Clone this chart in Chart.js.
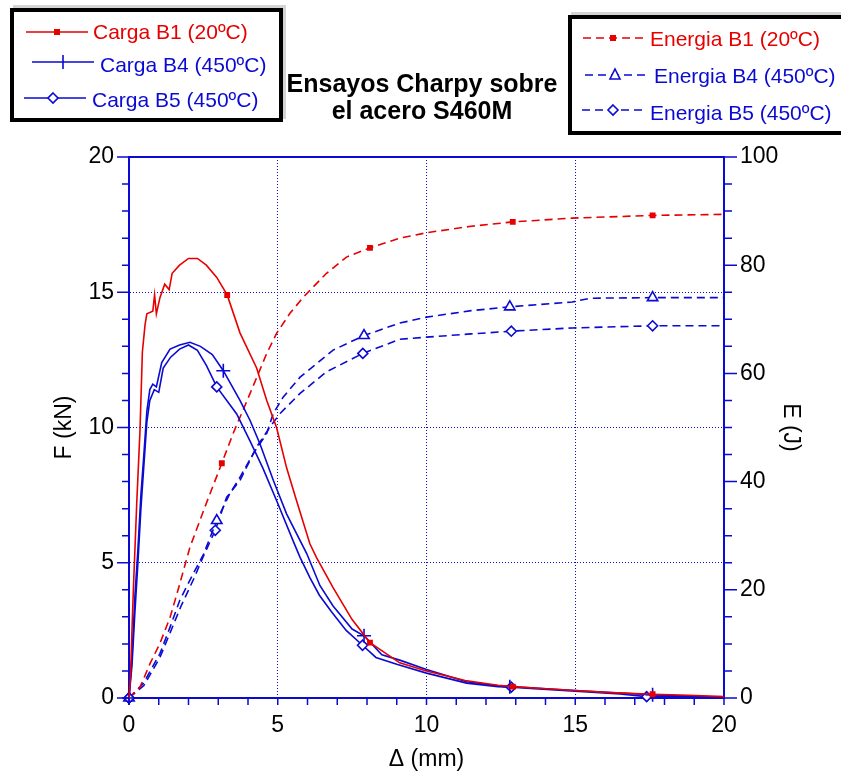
<!DOCTYPE html>
<html>
<head>
<meta charset="utf-8">
<script src="https://cdn.jsdelivr.net/npm/chart.js@4.4.1/dist/chart.umd.min.js"></script>
<style>
body { margin: 0; background: #fff; overflow: hidden; }
#wrap { position: relative; width: 841px; height: 774px; overflow: hidden; font-family: "Liberation Sans", Arial, sans-serif; }
#c { position: absolute; left: 0; top: 0; }
.box { position: absolute; border: 4px solid #000; box-sizing: border-box; background: #fff; box-shadow: 3px -3px 0 #d4d4d4; }
.lg { position: absolute; font-size: 21px; line-height: 24px; white-space: nowrap; }
.sw { position: absolute; overflow: visible; }
#title { position: absolute; left: 272px; top: 70px; width: 300px; text-align: center; font-weight: bold; font-size: 25px; line-height: 27px; color: #000; }
</style>
</head>
<body>
<div id="wrap">
  <canvas id="c" width="841" height="774"></canvas>

  <div class="box" style="left:10px;top:8px;width:273px;height:114px;"></div>
  <svg class="sw" style="left:26px;top:24px" width="64" height="16">
    <line x1="0" y1="8" x2="62" y2="8" stroke="#e60000" stroke-width="1.6"/>
    <rect x="28" y="5" width="6" height="6" fill="#e60000"/>
  </svg>
  <div class="lg" style="left:93px;top:20px;color:#e60000">Carga B1 (20ºC)</div>
  <svg class="sw" style="left:32px;top:54px" width="64" height="16">
    <line x1="0" y1="8" x2="62" y2="8" stroke="#0a0ad2" stroke-width="1.6"/>
    <line x1="31" y1="1" x2="31" y2="15" stroke="#0a0ad2" stroke-width="1.6"/>
  </svg>
  <div class="lg" style="left:100px;top:53px;color:#0a0ad2">Carga B4 (450ºC)</div>
  <svg class="sw" style="left:24px;top:90px" width="64" height="16">
    <line x1="0" y1="8" x2="62" y2="8" stroke="#0a0ad2" stroke-width="1.6"/>
    <polygon points="29,3 34,8 29,13 24,8" fill="#fff" stroke="#0a0ad2" stroke-width="1.6"/>
  </svg>
  <div class="lg" style="left:92px;top:88px;color:#0a0ad2">Carga B5 (450ºC)</div>

  <div class="box" style="left:568px;top:15px;width:290px;height:120px;"></div>
  <svg class="sw" style="left:583px;top:30px" width="66" height="16">
    <line x1="0" y1="8" x2="64" y2="8" stroke="#e60000" stroke-width="1.6" stroke-dasharray="8,5"/>
    <rect x="27" y="5" width="6" height="6" fill="#e60000"/>
  </svg>
  <div class="lg" style="left:650px;top:27px;color:#e60000">Energia B1 (20ºC)</div>
  <svg class="sw" style="left:585px;top:67px" width="66" height="16">
    <line x1="0" y1="8" x2="64" y2="8" stroke="#0a0ad2" stroke-width="1.6" stroke-dasharray="8,5"/>
    <polygon points="30,2 35,12 25,12" fill="#fff" stroke="#0a0ad2" stroke-width="1.6"/>
  </svg>
  <div class="lg" style="left:654px;top:64px;color:#0a0ad2">Energia B4 (450ºC)</div>
  <svg class="sw" style="left:582px;top:102px" width="66" height="16">
    <line x1="0" y1="8" x2="64" y2="8" stroke="#0a0ad2" stroke-width="1.6" stroke-dasharray="8,5"/>
    <polygon points="31,3 36,8 31,13 26,8" fill="#fff" stroke="#0a0ad2" stroke-width="1.6"/>
  </svg>
  <div class="lg" style="left:650px;top:101px;color:#0a0ad2">Energia B5 (450ºC)</div>

  <div id="title">Ensayos Charpy sobre<br>el acero S460M</div>
</div>

<script>
var RED = '#e60000';
var BLUE = '#0a0ad2';

// Carga (kN) vs desplazamiento (mm)
var xCargaB1 = [0, 0.05, 0.1, 0.15, 0.26, 0.37, 0.45, 0.54, 0.6, 0.8, 0.86, 0.92, 1.04, 1.2, 1.35, 1.45, 1.7, 2.0, 2.3, 2.6, 2.95, 3.3, 3.73, 4.29, 4.63, 4.96, 5.3, 5.63, 6.08, 6.3, 6.85, 7.5, 8.1, 9.1, 10, 11.3, 12.4, 12.9, 14, 15, 16.2, 17.6, 18.8, 20];
var fCargaB1 = [0, 0.8, 2.5, 4.1, 7.2, 9.9, 12.8, 13.8, 14.2, 14.3, 14.9, 14.2, 14.8, 15.3, 15.1, 15.7, 16.0, 16.25, 16.25, 16.0, 15.55, 14.9, 13.5, 12.2, 11.0, 10.0, 8.5, 7.3, 5.7, 5.2, 4.1, 2.9, 2.05, 1.3, 1.0, 0.65, 0.47, 0.42, 0.34, 0.28, 0.2, 0.14, 0.1, 0.05];

var xCargaB4 = [0, 0.1, 0.2, 0.3, 0.4, 0.5, 0.6, 0.7, 0.8, 0.92, 1.1, 1.38, 1.7, 2.05, 2.4, 2.8, 3.17, 3.73, 4.07, 4.4, 4.85, 5.3, 5.97, 6.42, 6.86, 7.5, 7.9, 8.5, 9.1, 10, 11.35, 12.4, 12.8, 13.5, 15, 16.5, 17.6, 18.5, 19.5, 20];
var fCargaB4 = [0, 1.5, 3.8, 5.5, 7.5, 9.0, 10.6, 11.4, 11.6, 11.5, 12.4, 12.9, 13.05, 13.15, 13.0, 12.7, 12.1, 11.0, 10.26, 9.4, 8.05, 6.8, 5.35, 4.15, 3.4, 2.55, 2.3, 1.6, 1.4, 1.05, 0.6, 0.45, 0.42, 0.38, 0.28, 0.18, 0.12, 0.08, 0.04, 0.02];

var xCargaB5 = [0, 0.1, 0.2, 0.3, 0.4, 0.5, 0.6, 0.7, 0.85, 1.0, 1.15, 1.4, 1.7, 2.0, 2.3, 2.6, 2.95, 3.62, 4.07, 4.5, 4.96, 5.52, 5.75, 6.08, 6.4, 6.8, 7.3, 7.85, 8.3, 9.0, 10, 11.35, 12.4, 12.85, 13.5, 15, 16.5, 17.4, 18.5, 20];
var fCargaB5 = [0, 1.2, 3.2, 5.0, 7.0, 8.6, 10.2, 11.0, 11.4, 11.3, 12.2, 12.6, 12.9, 13.05, 12.85, 12.3, 11.5, 10.5, 9.5, 8.5, 7.3, 5.8, 5.2, 4.45, 3.8, 3.2, 2.5, 1.95, 1.5, 1.25, 0.92, 0.55, 0.42, 0.4, 0.35, 0.25, 0.15, 0.05, 0.07, 0.02];

// Energia (J) vs desplazamiento (mm)
var xEnergiaB1 = [0, 0.37, 0.71, 1.04, 1.38, 1.65, 2.05, 2.6, 3.12, 3.5, 4.07, 4.63, 4.96, 5.41, 5.86, 6.64, 7.31, 8.1, 9.1, 10, 11.5, 12.9, 14.9, 17.6, 20];
var eEnergiaB1 = [0, 2.0, 6.4, 10.1, 14.9, 20, 27.9, 36, 43.4, 48.9, 56.3, 63.7, 67.4, 71.1, 74.1, 78.5, 81.5, 83.2, 85, 86, 87.2, 88.0, 88.7, 89.2, 89.4];

var xEnergiaB4 = [0, 0.48, 1.04, 1.38, 1.71, 2.16, 2.5, 2.95, 3.39, 3.73, 4.18, 4.63, 4.85, 5.18, 5.75, 6.86, 7.9, 9.1, 10, 11.5, 12.8, 14.9, 15.5, 17.6, 20];
var eEnergiaB4 = [0, 2.7, 8.2, 13.1, 18.1, 23, 26.5, 32.8, 37.8, 40.8, 45.2, 48.9, 52.6, 55.6, 59.3, 64.3, 67.0, 69.3, 70.4, 71.6, 72.3, 73.2, 73.9, 74.0, 74.0];

var xEnergiaB5 = [0, 0.5, 1.04, 1.4, 1.75, 2.2, 2.5, 2.9, 3.28, 3.73, 4.29, 4.74, 5.08, 5.75, 6.64, 7.86, 9.1, 10, 11.5, 12.85, 14.9, 17.6, 20];
var eEnergiaB5 = [0, 2.3, 7.5, 12.3, 17, 22.3, 26.2, 31, 37.1, 40.2, 46.4, 50.1, 52.6, 56.3, 60.3, 63.7, 66.3, 66.7, 67.3, 67.8, 68.4, 68.8, 68.8];

// posiciones (mm) de los simbolos de cada curva
var marcasCargaB1 = [3.3, 8.1, 12.9, 17.6];
var marcasCargaB4 = [0, 3.17, 7.9, 12.8, 17.6];
var marcasCargaB5 = [0, 2.95, 7.85, 12.85, 17.4];
var marcasEnergiaB1 = [3.12, 8.1, 12.9, 17.6];
var marcasEnergiaB4 = [0, 2.95, 7.9, 12.8, 17.6];
var marcasEnergiaB5 = [0, 2.9, 7.86, 12.85, 17.6];

function pts(xs, ys) {
    return xs.map(function (x, i) { return {x: x, y: ys[i]}; });
}

function markerRadius(marks, r) {
    return function (ctx) {
        var p = ctx.raw;
        if (!p) return 0;
        for (var i = 0; i < marks.length; i++) {
            if (Math.abs(p.x - marks[i]) < 0.001) return r;
        }
        return 0;
    };
}

function serie(label, data, axis, color, dashed, style, marks, r, fill) {
    return {
        label: label,
        data: data,
        yAxisID: axis,
        borderColor: color,
        borderWidth: 1.6,
        borderDash: dashed ? [8, 5] : [],
        showLine: true,
        fill: false,
        tension: 0,
        pointStyle: style,
        pointRadius: markerRadius(marks, r),
        pointHoverRadius: 0,
        pointHitRadius: 0,
        pointBorderWidth: 1.6,
        pointBorderColor: color,
        pointBackgroundColor: fill,
        clip: false
    };
}

// ejes: marco superior y marcas de division hacia fuera
var frame = {
    id: 'frame',
    afterDraw: function (chart) {
        var ctx = chart.ctx, a = chart.chartArea;
        var sx = chart.scales.x, sf = chart.scales.yF, se = chart.scales.yE;
        ctx.save();
        ctx.strokeStyle = BLUE;
        ctx.lineWidth = 2;
        ctx.beginPath();
        ctx.moveTo(a.left - 1, a.top);
        ctx.lineTo(a.right + 1, a.top);
        ctx.stroke();
        ctx.lineWidth = 1.5;
        ctx.beginPath();
        for (var v = 0; v <= 20; v++) {
            var px = sx.getPixelForValue(v);
            ctx.moveTo(px, a.bottom);
            ctx.lineTo(px, a.bottom + 7);
            var py = sf.getPixelForValue(v);
            ctx.moveTo(a.left, py);
            ctx.lineTo(a.left - (v % 5 === 0 ? 12 : 7), py);
        }
        for (var e = 0; e <= 100; e += 5) {
            var pe = se.getPixelForValue(e);
            ctx.moveTo(a.right, pe);
            ctx.lineTo(a.right + (e % 20 === 0 ? 13 : 8), pe);
        }
        ctx.stroke();
        ctx.restore();
    }
};

function gridColor(ctx) {
    var v = ctx.tick ? ctx.tick.value : 0;
    return (v % 5 === 0 && v > 0 && v < 20) ? BLUE : 'rgba(0,0,0,0)';
}

var tickFont = {family: '"Liberation Sans", Arial, sans-serif', size: 23};
var titleFont = {family: '"Liberation Sans", Arial, sans-serif', size: 23};

var chart = new Chart(document.getElementById('c'), {
    type: 'scatter',
    data: {
        datasets: [
            serie('Carga B1 (20ºC)', pts(xCargaB1, fCargaB1), 'yF', RED, false, 'rect', marcasCargaB1, 3, RED),
            serie('Carga B4 (450ºC)', pts(xCargaB4, fCargaB4), 'yF', BLUE, false, 'cross', marcasCargaB4, 7, BLUE),
            serie('Carga B5 (450ºC)', pts(xCargaB5, fCargaB5), 'yF', BLUE, false, 'rectRot', marcasCargaB5, 5, '#fff'),
            serie('Energia B1 (20ºC)', pts(xEnergiaB1, eEnergiaB1), 'yE', RED, true, 'rect', marcasEnergiaB1, 3, RED),
            serie('Energia B4 (450ºC)', pts(xEnergiaB4, eEnergiaB4), 'yE', BLUE, true, 'triangle', marcasEnergiaB4, 6, '#fff'),
            serie('Energia B5 (450ºC)', pts(xEnergiaB5, eEnergiaB5), 'yE', BLUE, true, 'rectRot', marcasEnergiaB5, 5, '#fff')
        ]
    },
    options: {
        responsive: false,
        animation: false,
        devicePixelRatio: 1,
        layout: {padding: {top: 157, left: 0, right: 0, bottom: 0}},
        plugins: {
            legend: {display: false},
            tooltip: {enabled: false}
        },
        scales: {
            x: {
                type: 'linear',
                min: 0,
                max: 20,
                ticks: {
                    stepSize: 1,
                    autoSkip: false,
                    maxRotation: 0,
                    padding: 14,
                    color: '#000',
                    font: tickFont,
                    callback: function (v) { return v % 5 === 0 ? v : ''; }
                },
                grid: {color: gridColor, lineWidth: 1, drawTicks: false},
                border: {color: BLUE, width: 2, dash: [1, 2]},
                title: {display: true, text: 'Δ (mm)', color: '#000', font: titleFont, padding: {top: 0, bottom: 1}},
                afterFit: function (s) { s.height = 76; }
            },
            yF: {
                type: 'linear',
                position: 'left',
                min: 0,
                max: 20,
                ticks: {
                    stepSize: 1,
                    autoSkip: false,
                    padding: 15,
                    color: '#000',
                    font: tickFont,
                    callback: function (v) { return v % 5 === 0 ? v : ''; }
                },
                grid: {color: gridColor, lineWidth: 1, drawTicks: false},
                border: {color: BLUE, width: 2, dash: [1, 2]},
                title: {display: true, text: 'F (kN)', color: '#000', font: titleFont, padding: {top: 51, bottom: 0}},
                afterFit: function (s) { s.width = 129; }
            },
            yE: {
                type: 'linear',
                position: 'right',
                min: 0,
                max: 100,
                ticks: {
                    stepSize: 5,
                    autoSkip: false,
                    padding: 16,
                    color: '#000',
                    font: tickFont,
                    callback: function (v) { return v % 20 === 0 ? v : ''; }
                },
                grid: {drawOnChartArea: false, drawTicks: false},
                border: {color: BLUE, width: 2},
                title: {display: true, text: 'E (J)', color: '#000', font: titleFont, padding: {top: 37, bottom: 0}},
                afterFit: function (s) { s.width = 117; }
            }
        }
    },
    plugins: [frame]
});
</script>
</body>
</html>
